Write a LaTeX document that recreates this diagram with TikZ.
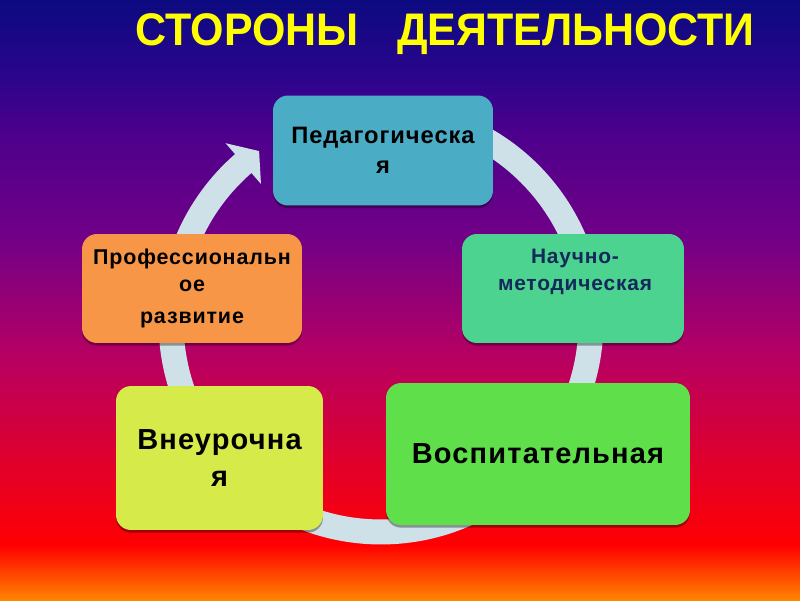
\documentclass[tikz,border=0pt]{standalone}
\usepackage{fontspec}
\setmainfont{Liberation Sans}
\newfontfamily\boxfont[LetterSpace=4]{Liberation Sans}
\usetikzlibrary{positioning,calc,shadows}

\definecolor{bgA}{RGB}{12,10,128}
\definecolor{bgB}{RGB}{40,5,140}
\definecolor{bgC}{RGB}{75,0,140}
\definecolor{bgD}{RGB}{115,0,135}
\definecolor{bgE}{RGB}{180,0,100}
\definecolor{bgF}{RGB}{220,0,50}
\definecolor{bgG}{RGB}{250,0,10}
\definecolor{bgH}{RGB}{255,0,0}
\definecolor{bgI}{RGB}{255,135,0}
\definecolor{ringClr}{RGB}{206,225,232}
\definecolor{pedClr}{RGB}{75,172,198}
\definecolor{nauClr}{RGB}{76,211,144}
\definecolor{vosClr}{RGB}{95,224,74}
\definecolor{vneClr}{RGB}{214,235,74}
\definecolor{proClr}{RGB}{247,150,70}
\definecolor{nauTxt}{RGB}{20,40,90}
\definecolor{titleClr}{RGB}{255,255,0}

\newcommand{\smallTxt}{\boxfont\bfseries\fontsize{13.5}{17}\selectfont}
\newcommand{\midTxt}{\boxfont\bfseries\fontsize{12.2}{15.3}\selectfont}
\newcommand{\nauFont}{\boxfont\bfseries\fontsize{11.9}{15.3}\selectfont}
\newcommand{\bigTxt}{\boxfont\bfseries\fontsize{16.5}{21}\selectfont}

\begin{document}
\begin{tikzpicture}[
    x=0.02cm, y=0.02cm,
    box/.style={rounded corners=0.3cm, inner sep=0pt, align=center,
      drop shadow={shadow xshift=0pt, shadow yshift=-1.5pt, opacity=0.35, fill=black}},
    ring/.style={draw=ringClr, line width=0.5cm},
    txt/.style={align=center, inner sep=0pt},
    title/.style={font=\bfseries\fontsize{26}{30}\selectfont, text=titleClr},
]
\useasboundingbox (0,0) rectangle (800,600);
% background
\foreach \ya/\yb/\ca/\cb in {0/70/bgA/bgB, 70/130/bgB/bgC, 130/240/bgC/bgD,
    240/350/bgD/bgE, 350/450/bgE/bgF, 450/530/bgF/bgG, 530/545/bgG/bgH, 545/600/bgH/bgI} {
  \shade[top color=\ca, bottom color=\cb] (0,600-\ya) rectangle (800,599-\yb);
}
\node[title] (ttl) at (445,566) {\scalebox{0.94}[1]{СТОРОНЫ\hspace{0.9em}ДЕЯТЕЛЬНОСТИ}};

% cycle ring with head
\coordinate (cen) at (381,278);
\draw[ring] ($(cen)+(90:4.2cm)$) arc[start angle=90, end angle=-230, radius=4.2cm];
\fill[ringClr] ($(cen)+(131:4.74cm)$) -- ($(cen)+(125.5:4.2cm)$) -- ($(cen)+(131:3.66cm)$) -- cycle;

% boxes
\node[box, fill=pedClr, minimum width=4.4cm, minimum height=2.2cm, font=\smallTxt] (ped) at (383,449.5) {Педагогическа\\я};
\node[box, fill=nauClr, minimum width=4.44cm, minimum height=2.18cm] (nau) at (573,311.5) {};
\node[txt, font=\nauFont, text=nauTxt] (nauT) at (575,328.5) {Научно-\\методическая};
\node[box, fill=vosClr, minimum width=6.08cm, minimum height=2.84cm, font=\bigTxt] (vos) at (538,146) {Воспитательная};
\node[box, fill=vneClr, minimum width=4.14cm, minimum height=2.88cm, font=\bigTxt] (vne) at (219.5,142) {Внеурочна\\я};
\node[box, fill=proClr, minimum width=4.4cm, minimum height=2.18cm, font=\midTxt] (pro) at (192,311.5) {Профессиональн\\ое\\[3.4pt]развитие};
\end{tikzpicture}
\end{document}
